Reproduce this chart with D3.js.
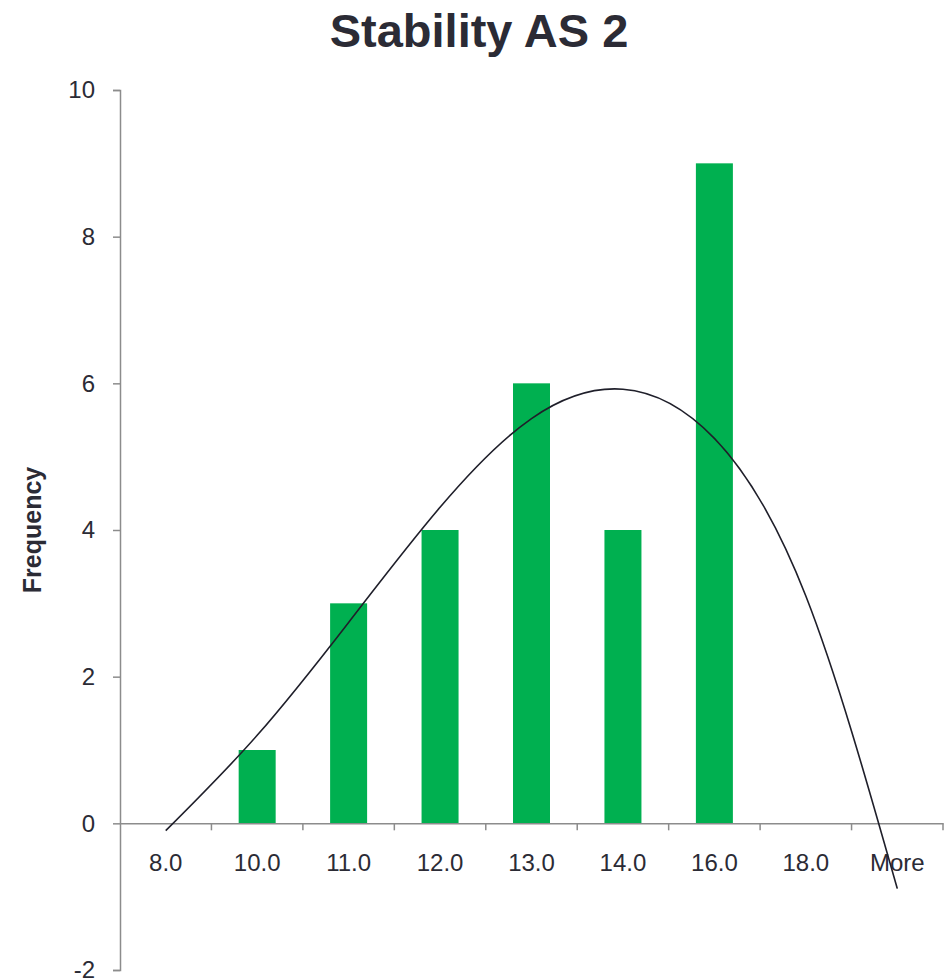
<!DOCTYPE html>
<html><head><meta charset="utf-8">
<script src="https://cdn.jsdelivr.net/npm/d3@7"></script>
<style>body{margin:0;background:#fff}svg{display:block}text{font-family:"Liberation Sans",Arial,sans-serif}</style>
</head><body>
<script>
const categories = ["8.0","10.0","11.0","12.0","13.0","14.0","16.0","18.0","More"];
const frequency = [0,1,3,4,6,4,9,0,0];
const trendValues = [-0.1,1.2,2.74,4.31,5.52,5.92,5.25,3.1,-0.89];
const yTicks = [-2,0,2,4,6,8,10];
const title = "Stability AS 2";
const yLabel = "Frequency";

(function(){
const W = 947, H = 980;
const mLeft = 120, mRight = 943, mTop = 90, mBottom = 970;
const svg = d3.select("body").append("svg").attr("width", W).attr("height", H);

const xb = d3.scaleBand().domain(categories).range([mLeft, mRight]);
const y = d3.scaleLinear().domain([-2, 10]).range([mBottom, mTop]);

svg.append("text").attr("x", 479).attr("y", 47).attr("text-anchor", "middle")
  .attr("font-size", 47).attr("font-weight", "bold").attr("fill", "#2b2b35").text(title);

// bars
svg.selectAll("rect.bar").data(categories).join("rect").attr("class","bar")
  .attr("x", d => xb(d) + xb.bandwidth()/2 - 18.5)
  .attr("width", 37)
  .attr("y", (d,i) => y(Math.max(0, frequency[i])))
  .attr("height", (d,i) => Math.abs(y(frequency[i]) - y(0)))
  .attr("fill", "#00B050");

// y axis
const yAxis = svg.append("g").attr("transform", `translate(${mLeft},0)`)
  .call(d3.axisLeft(y).tickValues(yTicks).tickSize(7).tickPadding(18).tickFormat(d => String(d)));
yAxis.select(".domain").attr("stroke", "#8c8c8c").attr("stroke-width", 1.5);
yAxis.selectAll(".tick line").attr("stroke", "#8c8c8c").attr("stroke-width", 1.5);
yAxis.selectAll(".tick text").attr("font-size", 24).attr("fill", "#2b2b35").attr("font-family", "Liberation Sans, Arial, sans-serif");

// x axis at 0
const xAxis = svg.append("g").attr("transform", `translate(0,${y(0)})`)
  .call(d3.axisBottom(xb).tickSize(0).tickPadding(31));
xAxis.select(".domain").attr("stroke", "#8c8c8c").attr("stroke-width", 1.5);
xAxis.selectAll(".tick text").attr("font-size", 24).attr("fill", "#2b2b35").attr("font-family", "Liberation Sans, Arial, sans-serif");
const bounds = categories.map(c => xb(c)).concat([xb(categories[categories.length-1]) + xb.bandwidth()]);
svg.append("g").selectAll("line").data(bounds.slice(1)).join("line")
  .attr("x1", d => d).attr("x2", d => d).attr("y1", y(0)).attr("y2", y(0) + 7)
  .attr("stroke", "#8c8c8c").attr("stroke-width", 1.5);

// trendline
const line = d3.line().x((d,i) => xb(categories[i]) + xb.bandwidth()/2).y(d => y(d)).curve(d3.curveNatural);
svg.append("path").datum(trendValues).attr("d", line).attr("fill", "none")
  .attr("stroke", "#1f1f2a").attr("stroke-width", 1.6);

// y label
svg.append("text").attr("transform", `translate(41,${(mTop+mBottom)/2}) rotate(-90)`)
  .attr("text-anchor", "middle").attr("font-size", 25).attr("font-weight", "bold").attr("fill", "#2b2b35").text(yLabel);
})();
</script>
</body></html>
